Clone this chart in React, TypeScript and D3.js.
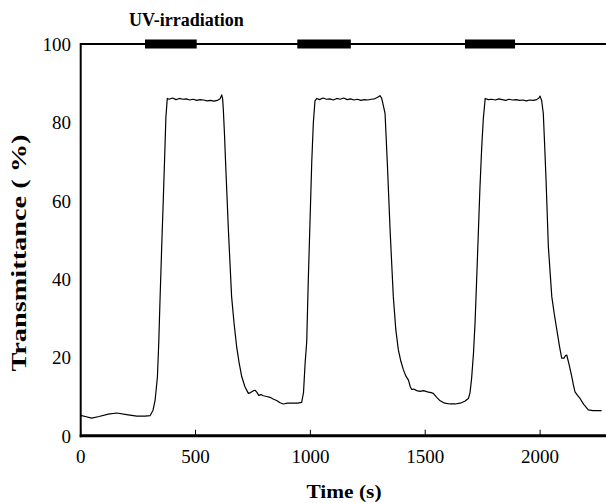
import React from "react";
import * as d3 from "d3";

const timeS: number[] = [
  0, 20, 48, 80, 120, 157, 200, 244, 280, 302, 315, 324, 334, 340, 345, 352, 360, 366, 371, 377,
  385, 400, 415, 430, 445, 460, 475, 490, 505, 520, 535, 550, 565, 580, 595, 607, 614, 618,
  621, 626, 631, 637, 643, 650, 657, 668, 679, 690, 701, 715, 730, 740, 752, 760, 768, 775,
  785, 795, 810, 824, 840, 853, 868, 882, 900, 926, 945, 962, 970, 977, 984, 991, 998, 1006,
  1013, 1020, 1028,
  1040, 1055, 1070, 1085, 1100, 1115, 1130, 1145, 1160, 1175, 1190, 1205, 1220, 1235, 1250,
  1265, 1280, 1293, 1303, 1310, 1315, 1325, 1335, 1347, 1361, 1372, 1383, 1394, 1405, 1416,
  1427, 1435, 1441, 1450, 1463, 1478, 1492, 1510, 1525, 1535, 1550, 1565, 1585, 1608, 1630,
  1652, 1672, 1688, 1695, 1702, 1710, 1717, 1724, 1731, 1738, 1746, 1753, 1761,
  1775, 1790, 1805, 1820, 1835, 1850, 1865, 1880, 1895, 1910, 1925, 1940, 1955, 1970, 1985,
  1995, 2000, 2007, 2014, 2020, 2026, 2036, 2051, 2062, 2073, 2084, 2094, 2104, 2110, 2116,
  2127, 2138, 2145, 2152, 2163, 2174, 2190, 2210, 2230, 2250, 2268,
];

const transmittance: number[] = [
  5.2, 4.9, 4.5, 4.9, 5.5, 5.8, 5.4, 5.0, 5.0, 5.1, 6.5, 9.1, 15, 24, 34, 47, 61, 72, 81.4, 86.1,
  85.9, 86.2, 85.8, 86.1, 85.9, 86.0, 85.7, 85.9, 85.6, 85.8, 85.7, 85.5, 85.6, 85.4, 85.6, 86.0, 87.0, 86.0,
  83.2, 77, 69.5, 61, 52.5, 44, 35.5, 28.5, 22.7, 18.5, 15.1, 12.5, 10.8, 11.0, 11.5, 11.6, 11.0, 10.3,
  10.5, 10.2, 10.0, 9.8, 9.3, 9.0, 8.4, 8.1, 8.3, 8.3, 8.3, 8.5, 11, 18.5, 24, 40, 54, 70,
  80, 85.5, 86.1,
  85.8, 86.2, 85.9, 86.0, 85.7, 86.1, 85.9, 86.2, 85.8, 86.0, 85.7, 85.9, 85.6, 85.8, 85.7,
  85.9, 86.0, 86.4, 86.8, 86.2, 85.0, 82.3, 69.5, 52.5, 35.5, 27, 21.9, 19, 16.8, 15.2,
  14.2, 12.5, 11.8, 11.9, 11.5, 11.3, 11.5, 11.2, 11.0, 10.8, 9.8, 8.9, 8.3, 8.1, 8.1,
  8.3, 8.8, 9.5, 11, 14.7, 21, 29, 40, 51.5, 63, 73.8, 81, 86.1,
  85.8, 85.9, 85.7, 86.0, 85.8, 85.6, 85.9, 85.7, 85.8, 85.6, 85.7, 85.5, 85.7, 85.6, 85.8,
  86.2, 86.7, 85.5, 82.3, 74, 65.3, 48.3, 35.5, 31, 27, 23, 19.8, 19.8, 20.4, 20.6,
  18, 15.1, 13, 11.2, 10.3, 9.5, 8, 6.6, 6.4, 6.4, 6.4,
];

const uvStart: number[] = [280, 943, 1673];
const uvEnd: number[] = [505, 1176, 1891];

const xTicks: number[] = [0, 500, 1000, 1500, 2000];
const yTicks: number[] = [0, 20, 40, 60, 80, 100];

export default function App() {
  const W = 606;
  const H = 503;
  const x = d3.scaleLinear().domain([0, 2287]).range([80.7, 606]);
  const y = d3.scaleLinear().domain([0, 100]).range([435.7, 44]);
  const pts: [number, number][] = timeS.map((t, i) => [t, transmittance[i]]);
  const line = d3
    .line<[number, number]>()
    .x((d) => x(d[0]))
    .y((d) => y(d[1]));
  const serif = "'Liberation Serif', 'Times New Roman', serif";

  return (
    <svg
      width={W}
      height={H}
      style={{ position: "absolute", left: 0, top: 0, background: "#fff" }}
      fontFamily={serif}
    >
      <rect x={0} y={0} width={W} height={H} fill="#fff" />
      {/* curve */}
      <path d={line(pts) || ""} fill="none" stroke="#000" strokeWidth={1.2} strokeLinejoin="round" />
      {/* top line */}
      <line x1={x(0)} x2={W} y1={y(100)} y2={y(100)} stroke="#000" strokeWidth={2} />
      {/* y axis */}
      <line x1={x(0)} x2={x(0)} y1={y(100) - 1} y2={y(0) + 1.5} stroke="#000" strokeWidth={2} />
      {/* x axis */}
      <line x1={x(0) - 1} x2={W} y1={y(0)} y2={y(0)} stroke="#000" strokeWidth={3} />
      {xTicks.map((t) => (
        <g key={"xt" + t}>
          <line x1={x(t)} x2={x(t)} y1={y(0)} y2={y(0) - 6} stroke="#000" strokeWidth={1} />
          <text x={x(t)} y={463} textAnchor="middle" fontSize={19} fill="#000">
            {t}
          </text>
        </g>
      ))}
      {yTicks.map((v) => (
        <text key={"yt" + v} x={71} y={y(v) + 7} textAnchor="end" fontSize={19} fill="#000">
          {v}
        </text>
      ))}
      {/* UV bars */}
      {uvStart.map((s, i) => (
        <rect
          key={"uv" + i}
          x={x(s)}
          y={y(100) - 4.5}
          width={x(uvEnd[i]) - x(s)}
          height={9}
          fill="#000"
        />
      ))}
      <text x={129} y={26} fontSize={18} fontWeight="bold" fill="#000">
        UV-irradiation
      </text>
      <text
        x={344}
        y={498}
        textAnchor="middle"
        fontSize={19}
        fontWeight="bold"
        fill="#000"
        textLength={75}
        lengthAdjust="spacingAndGlyphs"
      >
        Time (s)
      </text>
      <text
        transform="translate(26,253) rotate(-90)"
        textAnchor="middle"
        fontSize={21}
        fontWeight="bold"
        fill="#000"
        textLength={237}
        lengthAdjust="spacingAndGlyphs"
      >
        Transmittance ( %)
      </text>
    </svg>
  );
}
